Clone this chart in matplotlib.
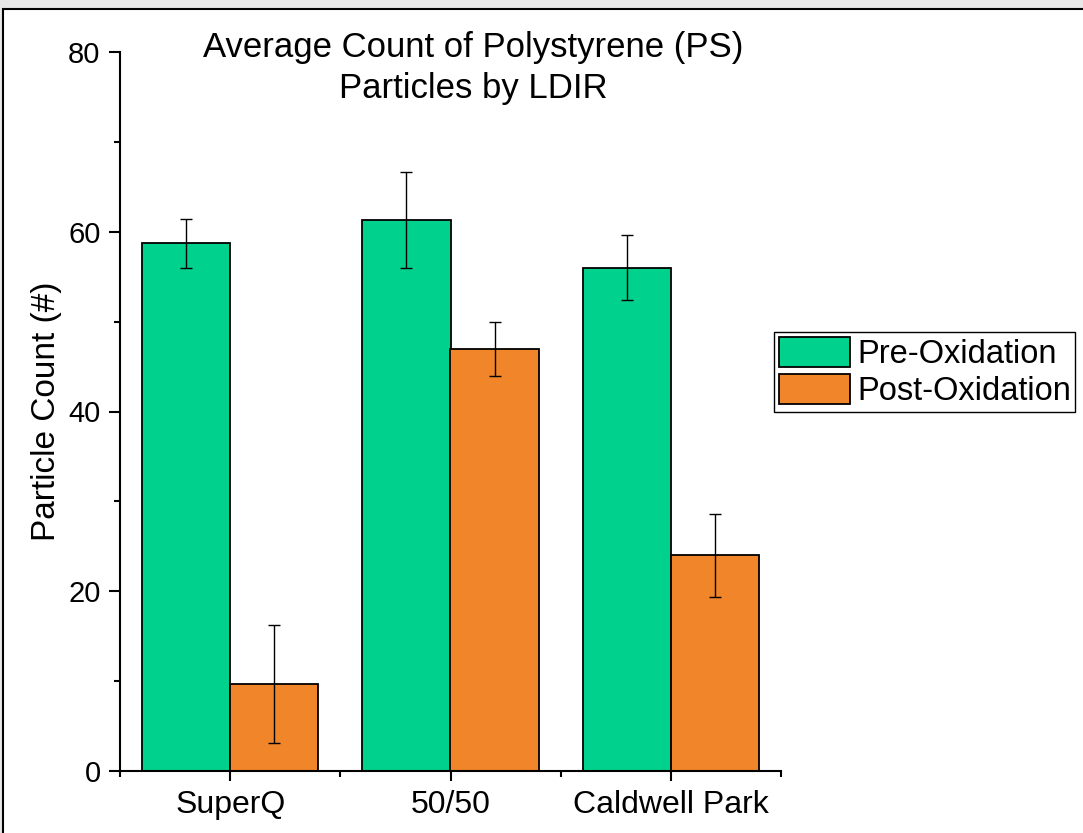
import matplotlib
matplotlib.use('Agg')
import numpy as np
import matplotlib.pyplot as plt
from matplotlib.patches import Rectangle
from matplotlib.ticker import MultipleLocator, FixedLocator

plt.rcParams['font.family'] = ['Liberation Sans', 'DejaVu Sans']

# dados
locais = ['SuperQ', '50/50', 'Caldwell Park']
pre_ox = [58.7, 61.3, 56.0]
pre_ox_err = [2.7, 5.3, 3.6]
pos_ox = [9.7, 47.0, 24.0]
pos_ox_err = [6.6, 3.0, 4.6]

cor_pre = '#00D18C'
cor_pos = '#F0852A'

fig = plt.figure(figsize=(10.83, 8.33), dpi=100)
fig.patch.set_facecolor('#e8e8e8')

# moldura branca atras do grafico
fig.patches.append(Rectangle((3 / 1083, -0.05), 1.2, 1 - 9 / 833 + 0.05,
                             transform=fig.transFigure, facecolor='white',
                             edgecolor='black', linewidth=1.5, zorder=-1))

ax = fig.add_axes([120 / 1083, 1 - 771 / 833, 661 / 1083, 719 / 833])
ax.set_facecolor('none')

x = np.arange(len(locais))
largura = 0.4

err_kw = dict(ecolor='black', elinewidth=1, capsize=4.5, capthick=1)
b1 = ax.bar(x - largura / 2, pre_ox, largura, yerr=pre_ox_err, color=cor_pre,
            edgecolor='black', linewidth=1.3, error_kw=err_kw, label='Pre-Oxidation')
b2 = ax.bar(x + largura / 2, pos_ox, largura, yerr=pos_ox_err, color=cor_pos,
            edgecolor='black', linewidth=1.3, error_kw=err_kw, label='Post-Oxidation')

ax.set_xlim(-0.5, 2.5)
ax.set_ylim(0, 80)

ax.set_xticks(x)
ax.set_xticklabels(locais, fontsize=23)
ax.xaxis.set_minor_locator(FixedLocator([-0.5, 0.5, 1.5, 2.5]))
ax.yaxis.set_major_locator(MultipleLocator(20))
ax.yaxis.set_minor_locator(MultipleLocator(10))

ax.spines['top'].set_visible(False)
ax.spines['right'].set_visible(False)
ax.spines['left'].set_linewidth(1.5)
ax.spines['bottom'].set_linewidth(1.5)

ax.tick_params(axis='y', which='major', labelsize=21, length=8, width=1.5,
               direction='out', pad=6)
ax.tick_params(axis='x', which='major', length=7.5, width=1.5,
               direction='out', pad=6)
ax.tick_params(axis='both', which='minor', length=4, width=1.5, direction='out')

fig.text(47 / 1083, 1 - 411 / 833, 'Particle Count (#)', rotation=90,
         ha='center', va='center', fontsize=24)

fig.text(473 / 1083, 1 - 31 / 833, 'Average Count of Polystyrene (PS)\nParticles by LDIR',
         ha='center', va='top', fontsize=25, linespacing=1.3)

leg = fig.legend(handles=[b1, b2], loc='upper left',
                 bbox_to_anchor=(774 / 1083, 1 - 332 / 833), fontsize=23.5,
                 frameon=True, fancybox=False, edgecolor='black', framealpha=1,
                 handlelength=2.2, handleheight=1.05, handletextpad=0.2,
                 labelspacing=0.12, borderpad=0.14, borderaxespad=0)
leg.get_frame().set_linewidth(1)

fig.savefig('out.png', dpi=100, facecolor=fig.get_facecolor())
